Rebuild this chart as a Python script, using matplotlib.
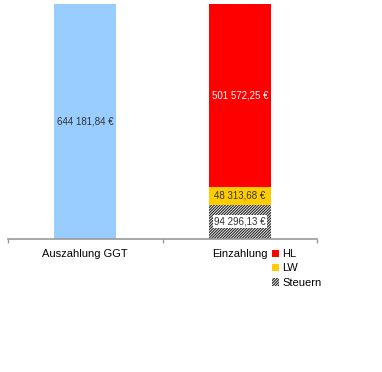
import matplotlib.pyplot as plt
from matplotlib.patches import Patch

plt.rcParams['font.family'] = ['Liberation Sans', 'DejaVu Sans']
plt.rcParams['hatch.linewidth'] = 0.8

# data
categories = ['Auszahlung GGT', 'Einzahlung']
auszahlung = [644181.84]
steuern = [94296.13]
lw = [48313.68]
hl = [501572.25]
series_names = ['HL', 'LW', 'Steuern']


def euro(v):
    s = f"{v:,.2f}"
    return s.replace(',', ' ').replace('.', ',') + ' €'


fig = plt.figure(figsize=(3.82, 3.72), dpi=100)
ax = fig.add_axes([8/382, 133/372, 309/382, 235/372])

w = 0.4
hatch = '////////////'
# left bar
ax.bar([0], auszahlung, width=w, color='#99ccff')
# stacked bar
ax.bar([1], steuern, width=w, color='white', edgecolor='#222222', hatch=hatch, linewidth=0)
ax.bar([1], lw, width=w, bottom=steuern, color='#ffcc00')
ax.bar([1], hl, width=w, bottom=[steuern[0] + lw[0]], color='#ff0000')

# labels
ax.text(0, auszahlung[0] / 2, euro(auszahlung[0]), ha='center', va='center', fontsize=7, color='#333333')
ax.text(1, steuern[0] + lw[0] + hl[0] / 2, euro(hl[0]), ha='center', va='center', fontsize=7, color='white')
ax.text(1, steuern[0] + lw[0] / 2, euro(lw[0]), ha='center', va='center', fontsize=7, color='#333333')
ax.text(1, steuern[0] / 2, euro(steuern[0]), ha='center', va='center', fontsize=7, color='#333333',
        bbox=dict(facecolor='white', edgecolor='none', pad=1))

ax.set_xlim(-0.5, 1.5)
ax.set_ylim(0, auszahlung[0])
for s in ['top', 'right', 'left']:
    ax.spines[s].set_visible(False)
ax.spines['bottom'].set_color('#999999')
ax.spines['bottom'].set_linewidth(1.2)
ax.set_yticks([])
ax.set_xticks([-0.5, 0.5, 1.5])
ax.set_xticklabels([])
ax.tick_params(axis='x', length=3, color='#999999', width=1)

for i, c in enumerate(categories):
    ax.text(i, -0.064, c, transform=ax.get_xaxis_transform(), ha='center', va='center', fontsize=8)

handles = [Patch(facecolor='#ff0000'), Patch(facecolor='#ffcc00'),
           Patch(facecolor='white', edgecolor='#222222', hatch=hatch, linewidth=0)]
fig.legend(handles, series_names, loc='upper left', bbox_to_anchor=(272/382, 1 - 249/372),
           frameon=False, fontsize=8, handlelength=0.6, handleheight=0.6,
           handletextpad=0.3, labelspacing=0.4, borderpad=0, borderaxespad=0)

plt.savefig('out.png', dpi=100)
